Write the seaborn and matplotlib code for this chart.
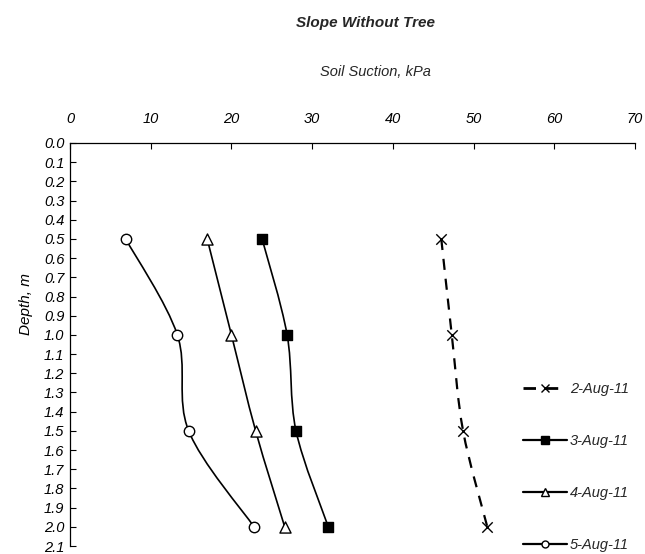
import numpy as np
import pandas as pd
import matplotlib
matplotlib.use("Agg")
import matplotlib.pyplot as plt
from matplotlib.path import Path
from matplotlib.patches import PathPatch
from matplotlib.lines import Line2D
import seaborn as sns

# ---- data ----
depth = [0.5, 1.0, 1.5, 2.0]
suction_2aug = [46.0, 47.3, 48.7, 51.7]
suction_3aug = [23.8, 26.9, 28.0, 32.0]
suction_4aug = [17.0, 20.0, 23.0, 26.6]
suction_5aug = [6.9, 13.3, 14.7, 22.8]
series_labels = ["2-Aug-11", "3-Aug-11", "4-Aug-11", "5-Aug-11"]
x_ticks = [0, 10, 20, 30, 40, 50, 60, 70]
y_ticks = [round(0.1 * i, 1) for i in range(22)]

sns.set_theme(style="white")
plt.rcParams['font.family'] = ['Liberation Sans', 'DejaVu Sans']
plt.rcParams['font.style'] = 'italic'

df = pd.DataFrame({
    "Depth": depth * 4,
    "Suction": suction_2aug + suction_3aug + suction_4aug + suction_5aug,
    "Date": sum([[lab] * len(depth) for lab in series_labels], []),
})

fig = plt.figure(figsize=(6.45, 5.54), dpi=100)
ax = fig.add_axes([70 / 645, 1 - 546 / 554, 565 / 645, 403 / 554])

styles = {
    "2-Aug-11": dict(marker="x", fc="black", ls=(0, (5, 4)), lw=1.6, ms=7.5, lms=6),
    "3-Aug-11": dict(marker="s", fc="black", ls="-", lw=1.2, ms=7.5, lms=6),
    "4-Aug-11": dict(marker="^", fc="white", ls="-", lw=1.2, ms=8, lms=5.5),
    "5-Aug-11": dict(marker="o", fc="white", ls="-", lw=1.2, ms=7.5, lms=5),
}


def smooth_path(xs, ys):
    pts = np.column_stack([xs, ys])
    n = len(pts)
    verts = [pts[0]]
    codes = [Path.MOVETO]
    for i in range(n - 1):
        p0 = pts[max(i - 1, 0)]
        p1 = pts[i]
        p2 = pts[i + 1]
        p3 = pts[min(i + 2, n - 1)]
        c1 = p1 + (p2 - p0) / 6.0
        c2 = p2 - (p3 - p1) / 6.0
        verts += [c1, c2, p2]
        codes += [Path.CURVE4] * 3
    return Path(verts, codes)


handles = []
for lab in series_labels:
    sub = df[df["Date"] == lab]
    st = styles[lab]
    patch = PathPatch(smooth_path(sub["Suction"].values, sub["Depth"].values),
                      transform=ax.transData, fill=False, edgecolor="black",
                      lw=st["lw"], linestyle=st["ls"], zorder=2)
    ax.add_patch(patch)
    if st["marker"] == "x":
        sns.scatterplot(data=sub, x="Suction", y="Depth", marker="x", s=st["ms"] ** 2,
                        color="black", linewidth=1.0, ax=ax, zorder=3, legend=False)
    else:
        sns.scatterplot(data=sub, x="Suction", y="Depth", marker=st["marker"], s=st["ms"] ** 2,
                        facecolor=st["fc"], edgecolor="black", linewidth=1.0, ax=ax,
                        zorder=3, legend=False)
    handles.append(Line2D([0], [0], color="black", lw=2.0 if lab == "2-Aug-11" else 1.6,
                          linestyle=(0, (4.5, 3.5)) if lab == "2-Aug-11" else "-",
                          marker=st["marker"], markersize=st["lms"],
                          markerfacecolor=st["fc"], markeredgecolor="black",
                          markeredgewidth=1.0, label=lab))

ax.set_xlim(0, 70)
ax.set_ylim(2.1, 0.0)
ax.xaxis.tick_top()
ax.set_xticks(x_ticks)
ax.set_xticklabels([str(v) for v in x_ticks], fontsize=10.5, style="italic")
ax.set_yticks(y_ticks)
ax.set_yticklabels([f"{v:.1f}" for v in y_ticks], fontsize=10.5, style="italic")
ax.tick_params(axis="x", direction="in", length=4, width=0.8, pad=12, colors="black",
               top=True, bottom=False)
ax.tick_params(axis="y", direction="in", length=4, width=0.8, pad=4, colors="black",
               left=True)
for side in ["right", "bottom"]:
    ax.spines[side].set_visible(False)
for side in ["top", "left"]:
    ax.spines[side].set_color("black")
    ax.spines[side].set_linewidth(0.9)

ax.set_xlabel("")
ax.set_ylabel("Depth, m", fontsize=11, style="italic", color="black")
ax.yaxis.set_label_coords(-0.066, 0.60)

fig.text(365 / 645, 1 - 23 / 554, "Slope Without Tree", ha="center", va="center",
         fontsize=11, fontweight="bold", style="italic")
fig.text(375 / 645, 1 - 72 / 554, "Soil Suction, kPa", ha="center", va="center",
         fontsize=10.5, style="italic")

leg = fig.legend(handles=handles, loc="upper left", bbox_to_anchor=(523 / 645, 1 - 382 / 554),
                 frameon=False, fontsize=10.5, handlelength=3.0, handletextpad=0.2,
                 labelspacing=2.6, borderaxespad=0, borderpad=0)
for t in leg.get_texts():
    t.set_style("italic")

fig.savefig("out.png", dpi=100)
